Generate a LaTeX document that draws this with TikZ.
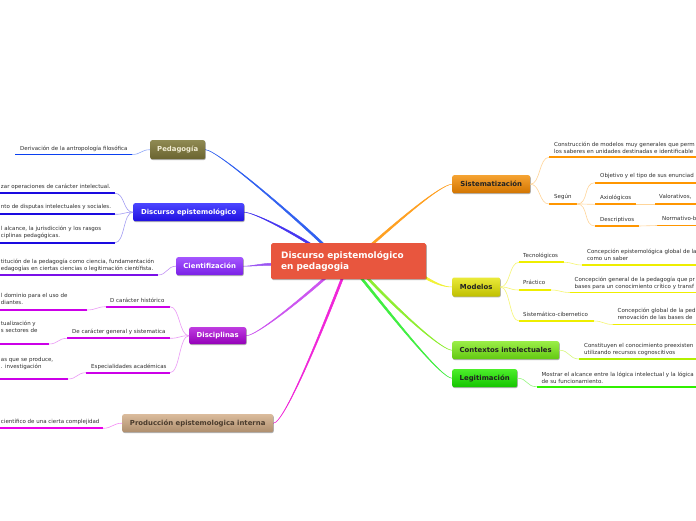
\documentclass[tikz,border=0pt]{standalone}
\usepackage{fontspec}
\setmainfont{DejaVu Sans}
\usetikzlibrary{calc,shadows,backgrounds}
\definecolor{leafgray}{HTML}{2E2E2E}
\definecolor{cenC}{HTML}{E8563E}
\definecolor{pedT}{HTML}{8F8A52}\definecolor{pedB}{HTML}{6A6430}\definecolor{pedTx}{HTML}{F2EDD5}
\definecolor{disT}{HTML}{4B45FF}\definecolor{disB}{HTML}{2010E0}
\definecolor{cieT}{HTML}{A455FF}\definecolor{cieB}{HTML}{7A20E6}
\definecolor{dscT}{HTML}{BE3BE0}\definecolor{dscB}{HTML}{9400B8}
\definecolor{proT}{HTML}{DABB9C}\definecolor{proB}{HTML}{AE8E6E}\definecolor{proTx}{HTML}{4A3B2C}
\definecolor{sisT}{HTML}{F5A332}\definecolor{sisB}{HTML}{D27400}
\definecolor{modT}{HTML}{EAEA3A}\definecolor{modB}{HTML}{BFBF00}
\definecolor{conT}{HTML}{9BEE48}\definecolor{conB}{HTML}{62C810}
\definecolor{legT}{HTML}{4CEE2A}\definecolor{legB}{HTML}{14C400}
\definecolor{darkTx}{HTML}{222222}
\definecolor{kPed}{HTML}{3060F0}\definecolor{kDis}{HTML}{4535F0}\definecolor{kCie}{HTML}{9A55F2}
\definecolor{kDsc}{HTML}{CC55F0}\definecolor{kPro}{HTML}{F025D8}\definecolor{kSis}{HTML}{FFA020}
\definecolor{kMod}{HTML}{F2F235}\definecolor{kCon}{HTML}{8EEE30}\definecolor{kLeg}{HTML}{40EE40}
\definecolor{uPed}{HTML}{0A40F0}\definecolor{uDis}{HTML}{1A0AE0}\definecolor{uCie}{HTML}{7A10E8}
\definecolor{uDsc}{HTML}{CC00E8}\definecolor{uPro}{HTML}{EA00EA}\definecolor{uSis}{HTML}{FF9600}
\definecolor{uMod}{HTML}{EEEE00}\definecolor{uCon}{HTML}{B2F000}\definecolor{uLeg}{HTML}{30F000}

\newcommand\trunk[5]{%
  \coordinate (tS) at (#2); \coordinate (tA) at (#3);
  \coordinate (tB) at (#4); \coordinate (tE) at (#5);
  \filldraw[#1, line width=0.5pt, line join=round]
    (tS) .. controls (tA) and ($(tB)!1.05pt!-90:(tE)$) .. ($(tE)!1.05pt!90:(tB)$)
    -- ($(tE)!1.05pt!-90:(tB)$) .. controls ($(tB)!1.05pt!90:(tE)$) and (tA) .. (tS) -- cycle;}

\tikzset{
  bnode/.style={anchor=north west, rounded corners=2pt, inner sep=0pt,
    font=\fontsize{6.9}{8}\selectfont\bfseries,
    drop shadow={shadow xshift=0.6pt, shadow yshift=-0.9pt, opacity=0.3, fill=black}},
  cnode/.style={anchor=north west, fill=cenC, rounded corners=1.5pt,
    minimum width=155pt, minimum height=36pt, text width=135pt,
    inner xsep=10pt, inner ysep=0pt, align=left, text=white,
    font=\fontsize{8.9}{11.5}\selectfont\bfseries,
    drop shadow={shadow xshift=0.6pt, shadow yshift=-0.9pt, opacity=0.3, fill=black}},
  leaf/.style={inner sep=0pt, align=left, text=leafgray, font=\fontsize{5.5}{6.9}\selectfont},
  uline/.style={line width=1.8pt},
  twig/.style={line width=0.6pt},
}

\begin{document}
\begin{tikzpicture}[x=1pt,y=-1pt]
\useasboundingbox (0,0) rectangle (696,520);

% ---------- main nodes
\node[cnode] (cen) at (271,243) {Discurso epistemológico\\en pedagogia};
\node[bnode, top color=pedT, bottom color=pedB, text=pedTx, minimum width=55pt, minimum height=19pt] (ped) at (150,140) {Pedagogía};
\node[bnode, top color=disT, bottom color=disB, text=white, minimum width=111pt, minimum height=18pt] (dis) at (133,203) {Discurso epistemológico};
\node[bnode, top color=cieT, bottom color=cieB, text=white, minimum width=67pt, minimum height=18pt] (cie) at (176,257) {Cientifización};
\node[bnode, top color=dscT, bottom color=dscB, text=white, minimum width=57pt, minimum height=17pt] (dsc) at (189,327) {Disciplinas};
\node[bnode, top color=proT, bottom color=proB, text=proTx, minimum width=151pt, minimum height=18pt] (pro) at (122,414) {Producción epistemologica interna};
\node[bnode, top color=sisT, bottom color=sisB, text=darkTx, minimum width=78pt, minimum height=18pt] (sis) at (452,175) {Sistematización};
\node[bnode, top color=modT, bottom color=modB, text=darkTx, minimum width=48pt, minimum height=19pt] (mod) at (452,277.3) {Modelos};
\node[bnode, top color=conT, bottom color=conB, text=darkTx, minimum width=107pt, minimum height=18pt] (con) at (452,341) {Contextos intelectuales};
\node[bnode, top color=legT, bottom color=legB, text=darkTx, minimum width=65pt, minimum height=18pt] (leg) at (452,369) {Legitimación};

% ---------- trunks from the centre
\begin{scope}[on background layer]
\fill[white] (0,0) rectangle (696,520);
\trunk{kPed}{ped.east}{$(ped.east)+(13,0.5)$}{$(cen.north west)+(29,-21)$}{$(cen.north west)+(54,3)$}
\trunk{kDis}{dis.east}{$(dis.east)+(10,0.5)$}{$(cen.north west)+(19,-12)$}{$(cen.north west)+(42,3)$}
\trunk{kCie}{cie.east}{$(cie.east)+(9,0)$}{$(cen.west)+(-9,3)$}{$(cen.west)+(3,3)$}
\trunk{kDsc}{dsc.east}{$(dsc.east)+(10,0)$}{$(cen.south west)+(29,21)$}{$(cen.south west)+(56,-3)$}
\trunk{kPro}{pro.east}{$(pro.east)+(11,0)$}{$(cen.south west)+(51,51)$}{$(cen.south west)+(72,-3)$}
\trunk{kSis}{sis.west}{$(sis.west)+(-12,0.5)$}{$(cen.north west)+(124,-19)$}{$(cen.north west)+(99,3)$}
\trunk{kMod}{mod.west}{$(mod.west)+(-9,0)$}{$(cen.south east)+(7,3)$}{$(cen.south east)+(-3,-3)$}
\trunk{kCon}{con.west}{$(con.west)+(-10,0)$}{$(cen.south west)+(129,33)$}{$(cen.south west)+(95,-3)$}
\trunk{kLeg}{leg.west}{$(leg.west)+(-10,0)$}{$(cen.south west)+(129,47)$}{$(cen.south west)+(89,-3)$}
\end{scope}

% ---------- Pedagogía
\coordinate (aA) at (15,154.5); \coordinate (aB) at (132,154.5);
\draw[uline, uPed] (aA) -- (aB);
\node[leaf, anchor=north west] (la) at (20,145.6) {Derivación de la antropología filosófica};
\draw[twig, uPed!45!white] (ped.west) .. controls +(-9,0) and +(9,0) .. (aB);

% ---------- Discurso epistemológico
\coordinate (b1A) at (-2,193.3); \coordinate (b1B) at (115,193.3);
\coordinate (b2A) at (-2,214.3); \coordinate (b2B) at (115,214.3);
\coordinate (b3A) at (-2,242.7); \coordinate (b3B) at (115,242.7);
\draw[uline, uDis] (b1A) -- (b1B);
\draw[uline, uDis] (b2A) -- (b2B);
\draw[uline, uDis] (b3A) -- (b3B);
\node[leaf, anchor=north west] (lb1) at (0.8,183.6) {zar operaciones de carácter intelectual.};
\node[leaf, anchor=north west] (lb2) at (0.8,204.6) {nto de disputas intelectuales y sociales.};
\node[leaf, anchor=north west] (lb3) at (0.8,225.6) {l alcance, la jurisdicción y los rasgos\\ciplinas pedagógicas.};
\foreach \e in {b1B,b2B,b3B}
  \draw[twig, uDis!40!white] (dis.west) .. controls +(-10,0) and +(10,0) .. (\e);

% ---------- Cientifización
\coordinate (cA) at (-2,275); \coordinate (cB) at (158,275);
\draw[uline, uCie] (cA) -- (cB);
\node[leaf, anchor=north west] (lc) at (0.8,258.6) {titución de la pedagogía como ciencia, fundamentación\\edagogías en ciertas ciencias o legitimación científista.};
\draw[twig, uCie!45!white] (cie.west) .. controls +(-9,0) and +(9,0) .. (cB);

% ---------- Disciplinas
\coordinate (d1A) at (106,306.7); \coordinate (d1B) at (170,306.7);
\coordinate (d2A) at (67,338.3);  \coordinate (d2B) at (170,338.3);
\coordinate (d3A) at (86,372.7);  \coordinate (d3B) at (170,372.7);
\draw[uline, uDsc] (d1A) -- (d1B);
\draw[uline, uDsc] (d2A) -- (d2B);
\draw[uline, uDsc] (d3A) -- (d3B);
\node[leaf, anchor=north west] (ld1) at (110,297.6) {D carácter histórico};
\node[leaf, anchor=north west] (ld2) at (72,329.3) {De carácter general y sistematica};
\node[leaf, anchor=north west] (ld3) at (91,363.6) {Especialidades académicas};
\foreach \e in {d1B,d2B,d3B}
  \draw[twig, uDsc!40!white] (dsc.west) .. controls +(-10,0) and +(10,0) .. (\e);
\coordinate (g1A) at (-2,310); \coordinate (g1B) at (87,310);
\coordinate (g2A) at (-2,344); \coordinate (g2B) at (49,344);
\coordinate (g3A) at (-2,379); \coordinate (g3B) at (68,379);
\draw[uline, uDsc] (g1A) -- (g1B);
\draw[uline, uDsc] (g2A) -- (g2B);
\draw[uline, uDsc] (g3A) -- (g3B);
\node[leaf, anchor=north west] (lg1) at (0.8,293.6) {l dominio para el uso de\\diantes.};
\node[leaf, anchor=north west] (lg2) at (0.8,320.6) {tualización y\\s sectores de};
\node[leaf, anchor=north west] (lg3) at (0.8,356.9) {as que se produce,\\. investigación};
\draw[twig, uDsc!40!white] (d1A) .. controls +(-9,0) and +(9,0) .. (g1B);
\draw[twig, uDsc!40!white] (d2A) .. controls +(-9,0) and +(9,0) .. (g2B);
\draw[twig, uDsc!40!white] (d3A) .. controls +(-9,0) and +(9,0) .. (g3B);

% ---------- Producción
\coordinate (eA) at (-2,428.3); \coordinate (eB) at (103,428.3);
\draw[uline, uPro] (eA) -- (eB);
\node[leaf, anchor=north west] (le) at (0.8,419.3) {científico de una cierta complejidad};
\draw[twig, uPro!45!white] (pro.west) .. controls +(-9,0) and +(9,0) .. (eB);

% ---------- Sistematización
\coordinate (f1A) at (549,157.3); \coordinate (f1B) at (700,157.3);
\coordinate (f2A) at (549,204);   \coordinate (f2B) at (577,204);
\draw[uline, uSis] (f1A) -- (f1B);
\draw[uline, uSis] (f2A) -- (f2B);
\node[leaf, anchor=north west] (lf1) at (554,141.8) {Construcción de modelos muy generales que perm\\los saberes en unidades destinadas e identificable};
\node[leaf, anchor=north west] (lf2) at (554,194.2) {Según};
\foreach \e in {f1A,f2A}
  \draw[twig, uSis!40!white] (sis.east) .. controls +(10,0) and +(-10,0) .. (\e);
\coordinate (s1A) at (595,182.7); \coordinate (s1B) at (700,182.7);
\coordinate (s2A) at (595,204.3); \coordinate (s2B) at (636,204.3);
\coordinate (s3A) at (595,226);   \coordinate (s3B) at (639,226);
\draw[uline, uSis] (s1A) -- (s1B);
\draw[uline, uSis] (s2A) -- (s2B);
\draw[uline, uSis] (s3A) -- (s3B);
\node[leaf, anchor=north west] (ls1) at (600,173.2) {Objetivo y el tipo de sus enunciad};
\node[leaf, anchor=north west] (ls2) at (600,195.2) {Axiológicos};
\node[leaf, anchor=north west] (ls3) at (600,216.8) {Descriptivos};
\foreach \e in {s1A,s2A,s3A}
  \draw[twig, uSis!40!white] (f2B) .. controls +(12,0) and +(-12,0) .. (\e);
\coordinate (h1A) at (655,204.3); \coordinate (h1B) at (700,204.3);
\coordinate (h2A) at (657,225.5); \coordinate (h2B) at (700,225.5);
\draw[uline, uSis] (h1A) -- (h1B);
\draw[uline, uSis] (h2A) -- (h2B);
\node[leaf, anchor=north west] (lh1) at (659,194.4) {Valorativos,};
\node[leaf, anchor=north west] (lh2) at (662,216) {Normativo-b};
\draw[twig, uSis!40!white] (s2B) .. controls +(9,0) and +(-9,0) .. (h1A);
\draw[twig, uSis!40!white] (s3B) .. controls +(9,0) and +(-9,0) .. (h2A);

% ---------- Modelos
\coordinate (i1A) at (519,262.3); \coordinate (i1B) at (564,262.3);
\coordinate (i2A) at (519,290);   \coordinate (i2B) at (551,290);
\coordinate (i3A) at (519,321);   \coordinate (i3B) at (594,321);
\draw[uline, uMod] (i1A) -- (i1B);
\draw[uline, uMod] (i2A) -- (i2B);
\draw[uline, uMod] (i3A) -- (i3B);
\node[leaf, anchor=north west] (li1) at (523,252.6) {Tecnológicos};
\node[leaf, anchor=north west] (li2) at (523,280.3) {Práctico};
\node[leaf, anchor=north west] (li3) at (523,311.6) {Sistemático-cibernetico};
\foreach \e in {i1A,i2A,i3A}
  \draw[twig, uMod!55!white] (mod.east) .. controls +(10,0) and +(-10,0) .. (\e);
\coordinate (j1A) at (582,265);   \coordinate (j1B) at (700,265);
\coordinate (j2A) at (570,292.5); \coordinate (j2B) at (700,292.5);
\coordinate (j3A) at (613,324.5); \coordinate (j3B) at (700,324.5);
\draw[uline, uMod] (j1A) -- (j1B);
\draw[uline, uMod] (j2A) -- (j2B);
\draw[uline, uMod] (j3A) -- (j3B);
\node[leaf, anchor=north west] (lj1) at (587,249.2) {Concepción epistemológica global de la\\como un saber};
\node[leaf, anchor=north west] (lj2) at (574.5,276.8) {Concepción general de la pedagogía que pr\\bases para un conocimiento crítico y transf};
\node[leaf, anchor=north west] (lj3) at (617.5,308.3) {Concepción global de la ped\\renovación de las bases de};
\draw[twig, uMod!55!white] (i1B) .. controls +(9,0) and +(-9,0) .. (j1A);
\draw[twig, uMod!55!white] (i2B) .. controls +(9,0) and +(-9,0) .. (j2A);
\draw[twig, uMod!55!white] (i3B) .. controls +(9,0) and +(-9,0) .. (j3A);

% ---------- Contextos intelectuales
\coordinate (kA) at (579,359); \coordinate (kB) at (700,359);
\draw[uline, uCon] (kA) -- (kB);
\node[leaf, anchor=north west] (lk) at (584,343.6) {Constituyen el conocimiento preexisten\\utilizando recursos cognoscitivos};
\draw[twig, uCon!50!white] (con.east) .. controls +(10,0) and +(-10,0) .. (kA);

% ---------- Legitimación
\coordinate (mA) at (536.5,386.7); \coordinate (mB) at (700,386.7);
\draw[uline, uLeg] (mA) -- (mB);
\node[leaf, anchor=north west] (lm) at (541.5,371.6) {Mostrar el alcance entre la lógica intelectual y la lógica\\de su funcionamiento.};
\draw[twig, uLeg!50!white] (leg.east) .. controls +(10,0) and +(-10,0) .. (mA);
\end{tikzpicture}
\end{document}
